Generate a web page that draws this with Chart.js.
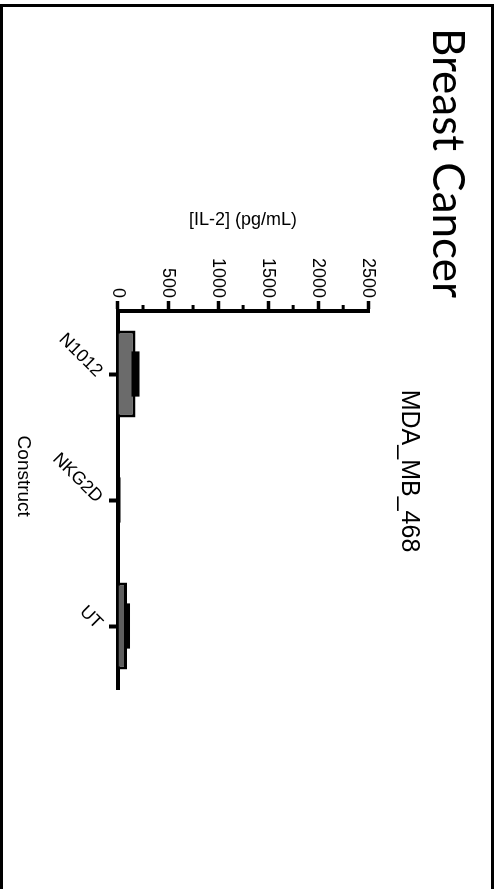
<!DOCTYPE html>
<html>
<head>
<meta charset="utf-8">
<script src="https://cdn.jsdelivr.net/npm/chart.js@4.4.1/dist/chart.umd.min.js"></script>
<style>
  html, body { margin: 0; padding: 0; background: #fff; overflow: hidden; width: 494px; height: 889px; }
  #frame { position: absolute; left: 0; top: 4px; width: 494px; height: 900px; box-sizing: border-box; border: 3px solid #000; border-bottom: none; }
  /* the figure is printed sideways: draw it flat, then turn it a quarter clockwise */
  #rot { position: absolute; left: 0; top: 0; width: 914px; height: 494px; transform-origin: 0 0; transform: translate(494px, 0) rotate(90deg); }
</style>
</head>
<body>
<div id="frame"></div>
<div id="rot"><canvas id="chart" width="914" height="494"></canvas></div>
<script>
// values
const constructs = ["N1012", "NKG2D", "UT"];
const il2Mean = [175, 20, 90];
const il2Sd = [40, 5, 30];
const barColors = ["#6b6b6b", "#000000", "#5e5e5e"];
const yMax = 2500;
const majorStep = 500;
const minorStep = 250;

Chart.defaults.font.family = "'Liberation Sans', Arial, sans-serif";
Chart.defaults.color = "#000";

// +/- SD drawn as a black block on top of each bar
const errorBars = {
  id: "errorBars",
  afterDatasetsDraw(chart) {
    const meta = chart.getDatasetMeta(0);
    const y = chart.scales.y;
    const ctx = chart.ctx;
    ctx.save();
    ctx.fillStyle = "#000";
    meta.data.forEach((bar, i) => {
      const top = y.getPixelForValue(il2Mean[i] + il2Sd[i]);
      const bot = y.getPixelForValue(il2Mean[i] - il2Sd[i]);
      const w = bar.width * 0.52;
      ctx.fillRect(bar.x - w / 2, top, w, bot - top);
    });
    ctx.restore();
  }
};

// short unlabeled ticks between the labeled ones
const minorTicks = {
  id: "minorTicks",
  afterDraw(chart) {
    const y = chart.scales.y;
    const ctx = chart.ctx;
    ctx.save();
    ctx.strokeStyle = "#000";
    ctx.lineWidth = 3;
    y.ticks.forEach(t => {
      if (t.value % majorStep === 0) return;
      const py = y.getPixelForValue(t.value);
      ctx.beginPath();
      ctx.moveTo(chart.chartArea.left - 6, py);
      ctx.lineTo(chart.chartArea.left, py);
      ctx.stroke();
    });
    ctx.restore();
  }
};

new Chart(document.getElementById("chart"), {
  type: "bar",
  data: {
    labels: constructs,
    datasets: [{
      data: il2Mean,
      backgroundColor: barColors,
      borderColor: "#000",
      borderWidth: 3,
      borderSkipped: "start",
      categoryPercentage: 1,
      barPercentage: 0.69
    }]
  },
  options: {
    responsive: false,
    animation: false,
    devicePixelRatio: 1,
    layout: { padding: { left: 28, right: 0, top: 0, bottom: 0 } },
    plugins: {
      legend: { display: false },
      tooltip: { enabled: false },
      title: {
        display: true,
        text: "Breast Cancer",
        align: "start",
        color: "#000",
        font: { family: "Lato, 'Open Sans', sans-serif", size: 44, weight: "normal" },
        padding: { top: 20, bottom: 0 }
      },
      subtitle: {
        display: true,
        text: "MDA_MB_468",
        color: "#000",
        font: { size: 25, weight: "normal", lineHeight: 1 },
        padding: { top: 0, bottom: 28 }
      }
    },
    scales: {
      x: {
        offset: true,
        grid: { drawOnChartArea: false, offset: false, tickLength: 9, tickWidth: 4, tickColor: "#000" },
        border: { color: "#000", width: 4 },
        ticks: { color: "#000", font: { size: 18 }, minRotation: 45, maxRotation: 45, padding: 2, autoSkip: false },
        // trailing spaces nudge the centred title toward the left like the original
        title: { display: true, text: "Construct         ", color: "#000", font: { size: 19 }, padding: { top: 0, bottom: 12 } },
        afterFit: (s) => { s.height = 118; }
      },
      y: {
        min: 0,
        max: yMax,
        grid: {
          drawOnChartArea: false,
          tickLength: 10,
          tickWidth: 3.5,
          tickColor: (c) => (c.tick && c.tick.value % majorStep === 0) ? "#000" : "rgba(0,0,0,0)"
        },
        border: { color: "#000", width: 4 },
        ticks: {
          stepSize: minorStep,
          autoSkip: false,
          color: "#000",
          font: { size: 18 },
          padding: 3,
          callback: (v) => v % majorStep === 0 ? v : ""
        },
        title: { display: true, text: "[IL-2] (pg/mL)", color: "#000", font: { size: 18 }, padding: { top: 181, bottom: 0 } },
        afterFit: (s) => { s.width = 283; }
      },
      yr: {
        type: "linear",
        position: "right",
        grid: { display: false },
        border: { display: false },
        ticks: { display: false },
        afterFit: (s) => { s.width = 225; }
      }
    }
  },
  plugins: [errorBars, minorTicks]
});
</script>
</body>
</html>
